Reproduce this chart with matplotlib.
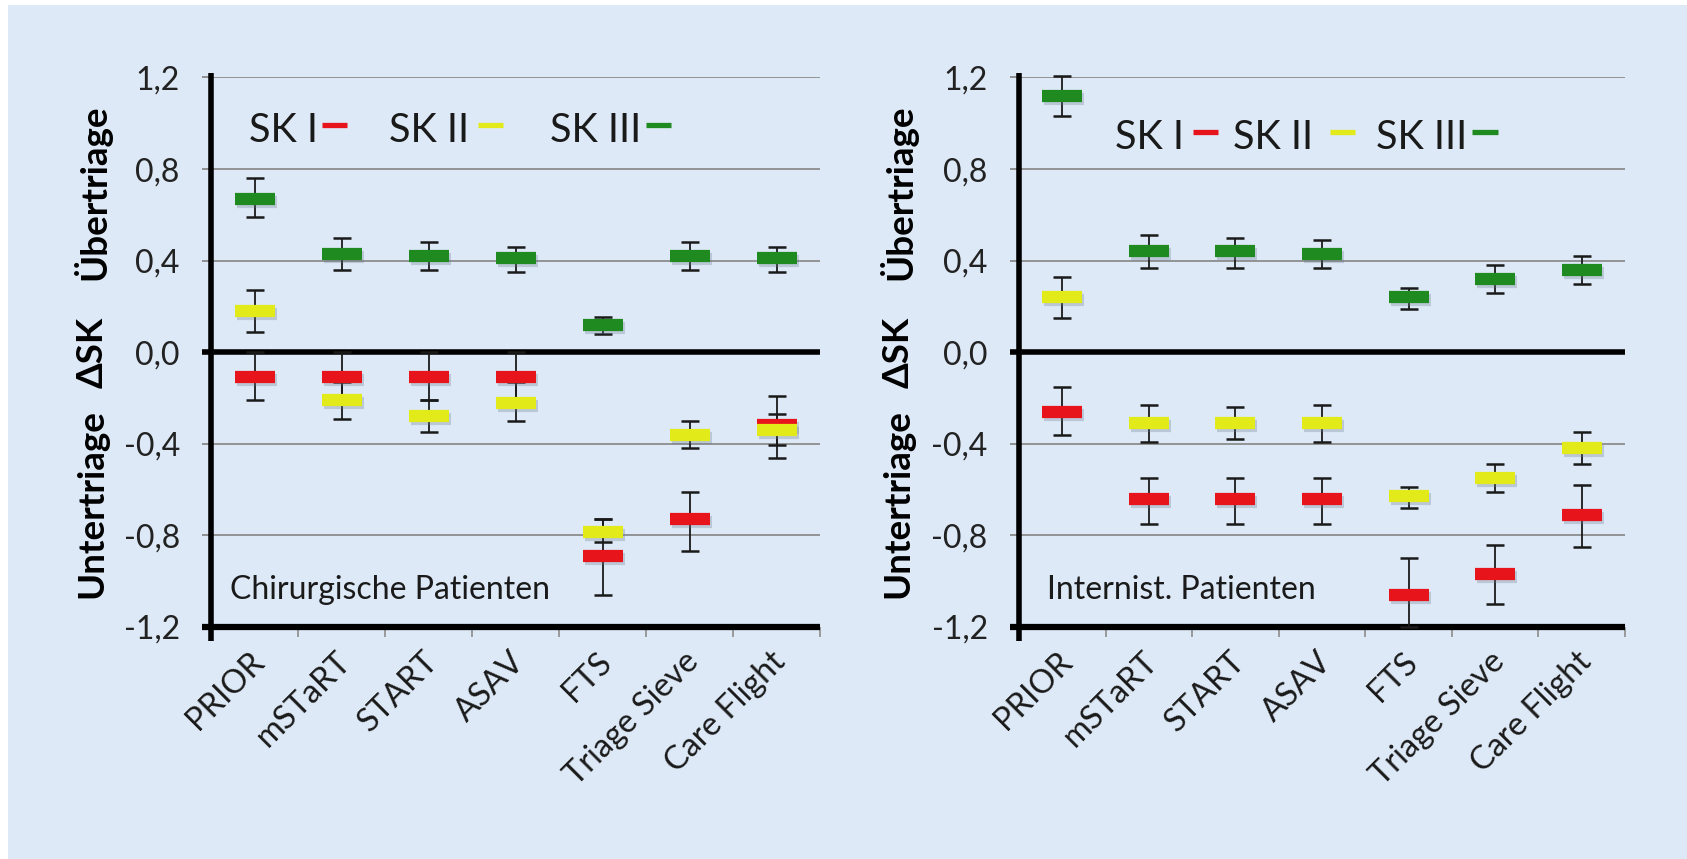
import numpy as np
import matplotlib.pyplot as plt
from matplotlib import transforms
from matplotlib.patches import Rectangle

plt.rcParams['font.family'] = ['Lato', 'DejaVu Sans']

categories = ["PRIOR", "mSTaRT", "START", "ASAV", "FTS", "Triage Sieve", "Care Flight"]
y_ticks = [-1.2, -0.8, -0.4, 0.0, 0.4, 0.8, 1.2]
y_tick_labels = ["-1,2", "-0,8", "-0,4", "0,0", "0,4", "0,8", "1,2"]

# Chirurgische Patienten: mean and error bar ends per SK group
chir_sk1 = [-0.11, -0.11, -0.11, -0.11, -0.89, -0.73, -0.32]
chir_sk1_lo = [-0.21, -0.21, -0.21, -0.21, -1.06, -0.87, -0.46]
chir_sk1_hi = [0.00, 0.00, 0.00, 0.00, -0.73, -0.61, -0.19]

chir_sk2 = [0.18, -0.21, -0.28, -0.22, -0.785, -0.36, -0.34]
chir_sk2_lo = [0.09, -0.29, -0.35, -0.30, -0.83, -0.42, -0.405]
chir_sk2_hi = [0.27, -0.13, -0.21, -0.13, -0.73, -0.30, -0.27]

chir_sk3 = [0.67, 0.43, 0.42, 0.41, 0.12, 0.42, 0.41]
chir_sk3_lo = [0.59, 0.36, 0.36, 0.35, 0.08, 0.36, 0.35]
chir_sk3_hi = [0.76, 0.50, 0.48, 0.46, 0.155, 0.48, 0.46]

# Internistische Patienten
int_sk1 = [-0.26, -0.64, -0.64, -0.64, -1.06, -0.97, -0.71]
int_sk1_lo = [-0.36, -0.75, -0.75, -0.75, -1.20, -1.10, -0.85]
int_sk1_hi = [-0.15, -0.55, -0.55, -0.55, -0.90, -0.84, -0.58]

int_sk2 = [0.24, -0.31, -0.31, -0.31, -0.63, -0.55, -0.42]
int_sk2_lo = [0.15, -0.39, -0.38, -0.39, -0.68, -0.61, -0.49]
int_sk2_hi = [0.33, -0.23, -0.24, -0.23, -0.59, -0.49, -0.35]

int_sk3 = [1.12, 0.44, 0.44, 0.43, 0.24, 0.32, 0.36]
int_sk3_lo = [1.03, 0.37, 0.37, 0.37, 0.19, 0.26, 0.30]
int_sk3_hi = [1.205, 0.51, 0.50, 0.49, 0.28, 0.38, 0.42]

red = '#e8141b'
yellow = '#e2ea1a'
green = '#1f8a1f'
bg = '#dde9f6'

fig = plt.figure(figsize=(16.87, 8.59), dpi=100)
fig.patch.set_facecolor('white')
fig.add_artist(Rectangle((8 / 1687, 0), 1, 1 - 5 / 859, transform=fig.transFigure,
                         facecolor=bg, edgecolor='none', zorder=-5))

ax1 = fig.add_axes([211 / 1687, 0.2701, 609 / 1687, 0.6397])
ax2 = fig.add_axes([1019 / 1687, 0.2701, 606 / 1687, 0.6397])
legend_pos_y = {ax1: 0.903, ax2: 0.89}


def draw_panel(ax, series, note, note_x, legend_pos, label_x):
    x = np.arange(len(categories))
    ax.set_facecolor('none')
    ax.set_xlim(-0.5, 6.5)
    ax.set_ylim(-1.2, 1.2)

    # grid and heavy lines
    for v in [1.2, 0.8, 0.4, -0.4, -0.8]:
        ax.axhline(v, color='#8c8c8c', lw=1.3, zorder=1)
    ax.plot([-0.015, 1], [0, 0], transform=ax.get_yaxis_transform(),
            color='black', lw=4, zorder=2, clip_on=False, solid_capstyle='butt')
    ax.plot([-0.015, 1], [-1.2, -1.2], transform=ax.get_yaxis_transform(),
            color='black', lw=4.5, zorder=2, clip_on=False, solid_capstyle='butt')
    ax.plot([0, 0], [-0.025, 1.008], transform=ax.transAxes,
            color='black', lw=4, zorder=6, clip_on=False, solid_capstyle='butt')
    for s in ax.spines.values():
        s.set_visible(False)

    # error bars first, markers on top
    for vals, lo, hi, color in series:
        vals = np.array(vals)
        yerr = [vals - np.array(lo), np.array(hi) - vals]
        ax.errorbar(x, vals, yerr=yerr, fmt='none', ecolor='#1a1a1a',
                    elinewidth=1.3, capsize=6.8, capthick=1.8, zorder=3, clip_on=False)
    shadow = transforms.offset_copy(ax.transData, fig=fig, x=2, y=-3, units='dots')
    for vals, lo, hi, color in series:
        ax.plot(x, vals, ls='none', marker='_', ms=29, mew=8.8, color='#6b7a8c',
                alpha=0.3, transform=shadow, zorder=4, clip_on=False)
        ax.plot(x, vals, ls='none', marker='_', ms=29, mew=8.8, color=color,
                zorder=5, clip_on=False)

    # ticks
    ax.set_yticks(y_ticks)
    ax.set_yticklabels(y_tick_labels, fontsize=23, color='#222222')
    ax.tick_params(axis='y', length=6.5, width=1.2, color='#808080', pad=16)
    ax.set_xticks(x)
    ax.set_xticklabels(categories, rotation=45, ha='right', va='top',
                       rotation_mode='anchor', fontsize=23.5, color='#1a1a1a')
    ax.set_xticks(np.arange(-0.5, 7, 1), minor=True)
    ax.tick_params(axis='x', which='major', length=0, pad=14)
    ax.tick_params(axis='x', which='minor', length=7, width=1.2, color='#8c8c8c')
    shift = transforms.ScaledTranslation(-0.06, 0, fig.dpi_scale_trans)
    for lab in ax.get_xticklabels():
        lab.set_transform(lab.get_transform() + shift)

    # legend drawn as text plus coloured dashes
    for (tx, d0, d1), name, color in zip(legend_pos, ["SK I", "SK II", "SK III"],
                                         [red, yellow, green]):
        ax.text(tx, legend_pos_y[ax], name, transform=ax.transAxes, fontsize=28.5,
                va='center', ha='left', color='#1a1a1a')
        ax.plot([d0, d1], [legend_pos_y[ax] + 0.01] * 2, transform=ax.transAxes,
                color=color, lw=3.8, solid_capstyle='butt', clip_on=False)

    ax.text(note_x, -1.04, note, transform=ax.get_yaxis_transform(), fontsize=23,
            va='center', ha='left', color='#1a1a1a')

    # y label split in three parts
    ylt = transforms.blended_transform_factory(ax.transAxes, ax.transData)
    for txt, yv in [("Übertriage", 0.70), ("ΔSK", 0.0), ("Untertriage", -0.66)]:
        ax.text(label_x, yv, txt, transform=ylt, rotation=90, fontsize=26.5,
                fontweight='bold', ha='center', va='center', color='black')


draw_panel(ax1,
           [(chir_sk1, chir_sk1_lo, chir_sk1_hi, red),
            (chir_sk2, chir_sk2_lo, chir_sk2_hi, yellow),
            (chir_sk3, chir_sk3_lo, chir_sk3_hi, green)],
           "Chirurgische Patienten", 0.031,
           [(0.062, 0.182, 0.223), (0.292, 0.438, 0.479), (0.557, 0.714, 0.755)],
           -0.195)

draw_panel(ax2,
           [(int_sk1, int_sk1_lo, int_sk1_hi, red),
            (int_sk2, int_sk2_lo, int_sk2_hi, yellow),
            (int_sk3, int_sk3_lo, int_sk3_hi, green)],
           "Internist. Patienten", 0.046,
           [(0.158, 0.287, 0.328), (0.353, 0.513, 0.554), (0.589, 0.748, 0.790)],
           -0.20)

fig.savefig('out.png', dpi=100, facecolor=fig.get_facecolor())
